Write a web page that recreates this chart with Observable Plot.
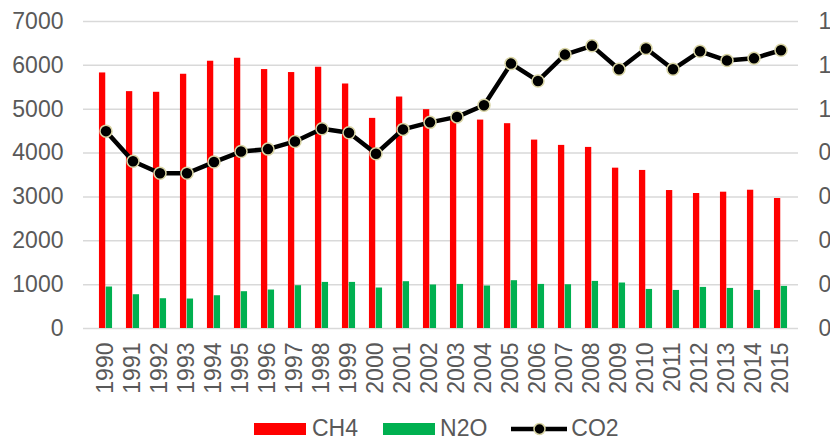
<!DOCTYPE html>
<html>
<head>
<meta charset="utf-8">
<script src="https://cdn.jsdelivr.net/npm/d3@7"></script>
<script src="https://cdn.jsdelivr.net/npm/@observablehq/plot@0.6"></script>
<style>
  html, body { margin: 0; padding: 0; background: #fff; overflow: hidden; }
  #wrap { width: 830px; height: 445px; position: relative; font-family: "Liberation Sans", Arial, sans-serif; }
  #legend { height: 33px; width: 830px; display: flex; align-items: center; padding-left: 254px; box-sizing: border-box; font-size: 23px; color: #595959; }
  .sw { width: 52px; height: 12px; display: inline-block; }
  .item { display: flex; align-items: center; }
</style>
</head>
<body>
<div id="wrap"></div>
<script>
const years = ["1990","1991","1992","1993","1994","1995","1996","1997","1998","1999","2000","2001","2002","2003","2004","2005","2006","2007","2008","2009","2010","2011","2012","2013","2014","2015"];
const ch4 = [5827,5401,5386,5797,6094,6162,5904,5836,5957,5575,4791,5278,4990,4800,4752,4670,4296,4175,4129,3656,3604,3146,3078,3108,3153,2964];
const n2o = [946,770,679,672,747,839,877,976,1051,1051,923,1067,992,1005,969,1090,1005,998,1074,1037,891,868,937,914,868,960];
const co2 = [0.900,0.763,0.708,0.708,0.759,0.807,0.818,0.853,0.911,0.893,0.797,0.908,0.940,0.965,1.018,1.208,1.129,1.249,1.289,1.182,1.277,1.182,1.264,1.222,1.232,1.269];
const leftTicks = [0,1000,2000,3000,4000,5000,6000,7000];
const rightTicks = [0,0.2,0.4,0.6,0.8,1.0,1.2,1.4];
const rightTickLabels = ["0","0.2","0.4","0.6","0.8","1","1.2","1.4"];
const seriesNames = ["CH4","N2O","CO2"];
const seriesColors = ["#ff0000","#00b050","#000000"];

const RATIO = 7000 / 1.4; // secondary axis maps onto primary
const W = 830, H = 412, ML = 85, MR = 30, MT = 21, MB = 84;
const step = (W - ML - MR) / years.length;
const barW = 6.8;

const rows = years.map((y, i) => ({year: y, ch4: ch4[i], n2o: n2o[i], co2: co2[i]}));

const chart = Plot.plot({
  width: W, height: H,
  marginLeft: ML, marginRight: MR, marginTop: MT, marginBottom: MB,
  style: {fontFamily: "'Liberation Sans', Arial, sans-serif", fontSize: "23px", color: "#595959", background: "#fff"},
  x: {type: "band", domain: years, padding: 0, label: null},
  y: {domain: [0, 7000], label: null},
  marks: [
    Plot.ruleY(leftTicks, {stroke: "#d9d9d9", strokeWidth: 1.5, dx: -2}),
    Plot.barY(rows, {x: "year", y: "ch4", fill: seriesColors[0], insetLeft: step/2 - barW, insetRight: step/2}),
    Plot.barY(rows, {x: "year", y: "n2o", fill: seriesColors[1], insetLeft: step/2, insetRight: step/2 - barW}),
    Plot.line(rows, {x: "year", y: d => d.co2 * RATIO, stroke: "#000", strokeWidth: 4.5}),
    Plot.dot(rows, {x: "year", y: d => d.co2 * RATIO, r: 6, fill: "#000", stroke: "#d8d4a4", strokeWidth: 1.5}),
    Plot.axisY({ticks: leftTicks, tickSize: 0, tickPadding: 22, tickFormat: d => String(d), fill: "#595959", label: null}),
    Plot.axisX({tickSize: 0, tickPadding: 14, tickRotate: -90, fill: "#595959", label: null}),
    Plot.text(rightTicks, {y: d => d * RATIO, text: (d, i) => rightTickLabels[i], frameAnchor: "right", textAnchor: "start", dx: 18, fill: "#595959"})
  ]
});

const wrap = document.getElementById("wrap");
wrap.appendChild(chart);

const legend = document.createElement("div");
legend.id = "legend";
legend.innerHTML = `
  <div class="item"><span class="sw" style="background:${seriesColors[0]}"></span><span style="margin-left:6px">${seriesNames[0]}</span></div>
  <div class="item" style="margin-left:25px"><span class="sw" style="background:${seriesColors[1]}"></span><span style="margin-left:5px">${seriesNames[1]}</span></div>
  <div class="item" style="margin-left:24px"><svg width="57" height="14" style="display:block"><line x1="0" x2="56" y1="7" y2="7" stroke="#000" stroke-width="4.5"/><circle cx="28.5" cy="7" r="5.5" fill="#000" stroke="#d8d4a4" stroke-width="1.5"/></svg><span style="margin-left:3px">${seriesNames[2]}</span></div>
`;
wrap.appendChild(legend);
</script>
</body>
</html>
